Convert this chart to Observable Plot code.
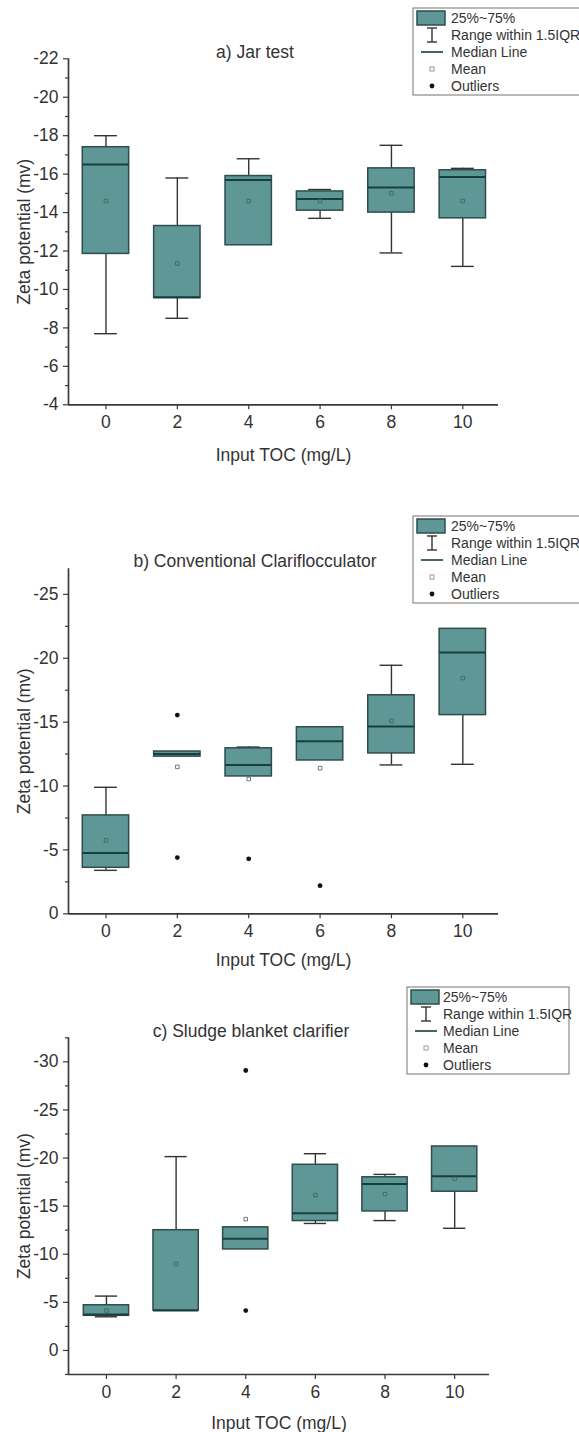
<!DOCTYPE html>
<html>
<head>
<meta charset="utf-8">
<script src="https://cdn.jsdelivr.net/npm/d3@7"></script>
<script src="https://cdn.jsdelivr.net/npm/@observablehq/plot@0.6"></script>
<style>
  body { margin: 0; background: #fff; }
  #page { position: relative; width: 579px; height: 1432px; overflow: hidden; background: #fff;
          font-family: Arial, "Liberation Sans", sans-serif; }
  .panel { position: absolute; left: 0; }
  #overlay { position: absolute; left: 0; top: 0; pointer-events: none; }
</style>
</head>
<body>
<div id="page"></div>
<script>
// ---------- data ----------
const toc = [0, 2, 4, 6, 8, 10];
const xTicks = [0, 2, 4, 6, 8, 10];

// a) Jar test
const jarWhiskerHigh = [-18.0, -15.8, -16.8, -15.2, -17.5, -16.3];
const jarQ3          = [-17.4, -13.3, -15.9, -15.1, -16.3, -16.2];
const jarMedian      = [-16.5, -9.6, -15.7, -14.7, -15.3, -15.85];
const jarQ1          = [-11.85, -9.55, -12.3, -14.1, -14.0, -13.7];
const jarWhiskerLow  = [-7.7, -8.5, -12.3, -13.7, -11.9, -11.2];
const jarMean        = [-14.6, -11.35, -14.6, -14.6, -15.0, -14.6];
const jarOutlierToc   = [];
const jarOutlierValue = [];
const jarYTicks = [-22, -20, -18, -16, -14, -12, -10, -8, -6, -4];
const jarYMinor = [-21, -19, -17, -15, -13, -11, -9, -7, -5];

// b) Conventional Clariflocculator
const convWhiskerHigh = [-9.9, -12.7, -13.05, -14.6, -19.45, -22.3];
const convQ3          = [-7.7, -12.7, -12.95, -14.6, -17.1, -22.3];
const convMedian      = [-4.75, -12.5, -11.65, -13.5, -14.65, -20.45];
const convQ1          = [-3.6, -12.3, -10.75, -12.0, -12.55, -15.55];
const convWhiskerLow  = [-3.4, -12.3, -10.75, -12.0, -11.65, -11.7];
const convMean        = [-5.75, -11.5, -10.55, -11.4, -15.1, -18.45];
const convOutlierToc   = [2, 2, 4, 6];
const convOutlierValue = [-15.55, -4.4, -4.3, -2.2];
const convYTicks = [0, -5, -10, -15, -20, -25];
const convYMinor = [-2.5, -7.5, -12.5, -17.5, -22.5];

// c) Sludge blanket clarifier
const sludgeWhiskerHigh = [-5.65, -20.15, -12.8, -20.45, -18.3, -21.2];
const sludgeQ3          = [-4.7, -12.5, -12.8, -19.3, -18.0, -21.2];
const sludgeMedian      = [-3.75, -4.15, -11.6, -14.25, -17.3, -18.1];
const sludgeQ1          = [-3.6, -4.15, -10.5, -13.45, -14.45, -16.5];
const sludgeWhiskerLow  = [-3.5, -4.15, -10.5, -13.2, -13.5, -12.7];
const sludgeMean        = [-4.15, -9.0, -13.65, -16.15, -16.25, -17.85];
const sludgeOutlierToc   = [4, 4];
const sludgeOutlierValue = [-29.1, -4.15];
const sludgeYTicks = [0, -5, -10, -15, -20, -25, -30];
const sludgeYMinor = [2.5, -2.5, -7.5, -12.5, -17.5, -22.5, -27.5, -32.5];

const legendLabels = ["25%~75%", "Range within 1.5IQR", "Median Line", "Mean", "Outliers"];
const titles = ["a) Jar test", "b) Conventional Clariflocculator", "c) Sludge blanket clarifier"];
const xLabel = "Input TOC (mg/L)";
const yLabel = "Zeta potential (mv)";

// ---------- style ----------
const BOX_FILL = "#5f9696";
const BOX_STROKE = "#2f4d4d";
const MEDIAN = "#173f3f";
const WHISKER = "#333";
const AXIS = "#3a3a3a";
const TEXT = "#333";
const MEAN = "#3e6262";
const BOX_HALF = 0.65, CAP_HALF = 0.32;

function stats(hi, q3, med, q1, lo, mean) {
  return toc.map((t, i) => ({toc: t, hi: hi[i], q3: q3[i], median: med[i], q1: q1[i], lo: lo[i], mean: mean[i]}));
}
function outl(ts, vs) { return ts.map((t, i) => ({toc: t, value: vs[i]})); }

const page = document.getElementById("page");

function panel(cfg) {
  const {top, height, marginTop, marginBottom, marginRight, xDomain, yDomain, yTicks, yMinor, data, outliers, xLabelOffset} = cfg;
  const chart = Plot.plot({
    width: 579, height, marginTop, marginBottom, marginLeft: 68, marginRight,
    style: {fontFamily: "Arial, 'Liberation Sans', sans-serif", fontSize: "13.5px", color: TEXT, background: "transparent", overflow: "visible"},
    x: {type: "linear", domain: xDomain},
    y: {type: "linear", domain: yDomain},
    marks: [
      // whiskers
      Plot.ruleX(data, {x: "toc", y1: "q3", y2: "hi", stroke: WHISKER, strokeWidth: 1.4}),
      Plot.ruleX(data, {x: "toc", y1: "lo", y2: "q1", stroke: WHISKER, strokeWidth: 1.4}),
      Plot.ruleY(data.filter(d => d.hi !== d.q3), {y: "hi", x1: d => d.toc - CAP_HALF, x2: d => d.toc + CAP_HALF, stroke: WHISKER, strokeWidth: 1.4}),
      Plot.ruleY(data.filter(d => d.lo !== d.q1), {y: "lo", x1: d => d.toc - CAP_HALF, x2: d => d.toc + CAP_HALF, stroke: WHISKER, strokeWidth: 1.4}),
      // boxes
      Plot.rect(data, {x1: d => d.toc - BOX_HALF, x2: d => d.toc + BOX_HALF, y1: "q1", y2: "q3", fill: BOX_FILL, stroke: BOX_STROKE, strokeWidth: 1.5}),
      Plot.ruleY(data, {y: "median", x1: d => d.toc - BOX_HALF, x2: d => d.toc + BOX_HALF, stroke: MEDIAN, strokeWidth: 2}),
      // mean
      Plot.dot(data, {x: "toc", y: "mean", symbol: "square", r: 2, stroke: MEAN, strokeWidth: 1, fill: "none", strokeOpacity: 0.8}),
      // outliers
      Plot.dot(outliers, {x: "toc", y: "value", r: 2.4, fill: "#111", stroke: "none"}),
      // axes
      Plot.axisY(yMinor, {tickSize: 3, tickFormat: () => "", stroke: AXIS, strokeWidth: 1.2, label: null}),
      Plot.axisY({ticks: yTicks, tickSize: 5, tickPadding: 5, tickFormat: d => String(d), stroke: AXIS, strokeWidth: 1.2, fill: TEXT,
                  label: yLabel, labelAnchor: "center", labelArrow: "none", labelOffset: 51, fontSize: 17.5}),
      Plot.axisX({ticks: xTicks, tickSize: 5, tickPadding: 6, tickFormat: d => String(d), stroke: AXIS, strokeWidth: 1.2, fill: TEXT,
                  label: xLabel, labelAnchor: "center", labelArrow: "none", labelOffset: xLabelOffset, fontSize: 17.5}),
      Plot.ruleX([xDomain[0]], {stroke: AXIS, strokeWidth: 1.7}),
      Plot.ruleY([yDomain[0]], {stroke: AXIS, strokeWidth: 1.7})
    ]
  });
  chart.classList.add("panel");
  chart.style.top = top + "px";
  page.appendChild(chart);
}

panel({top: 0, height: 480, marginTop: 58.3, marginBottom: 75.7, marginRight: 81,
  xDomain: [-1.05, 11.0], yDomain: [-4, -22], yTicks: jarYTicks, yMinor: jarYMinor,
  data: stats(jarWhiskerHigh, jarQ3, jarMedian, jarQ1, jarWhiskerLow, jarMean),
  outliers: outl(jarOutlierToc, jarOutlierValue), xLabelOffset: 56});

panel({top: 480, height: 480, marginTop: 88.3, marginBottom: 46.7, marginRight: 81,
  xDomain: [-1.05, 11.0], yDomain: [0, -27], yTicks: convYTicks, yMinor: convYMinor,
  data: stats(convWhiskerHigh, convQ3, convMedian, convQ1, convWhiskerLow, convMean),
  outliers: outl(convOutlierToc, convOutlierValue), xLabelOffset: 52.5});

panel({top: 950, height: 482, marginTop: 87.3, marginBottom: 58, marginRight: 90,
  xDomain: [-1.09, 11.0], yDomain: [2.5, -32.5], yTicks: sludgeYTicks, yMinor: sludgeYMinor,
  data: stats(sludgeWhiskerHigh, sludgeQ3, sludgeMedian, sludgeQ1, sludgeWhiskerLow, sludgeMean),
  outliers: outl(sludgeOutlierToc, sludgeOutlierValue), xLabelOffset: 54.75});

// ---------- titles & legends overlay ----------
const svg = d3.select(page).append("svg").attr("id", "overlay").attr("width", 579).attr("height", 1432)
  .style("font-family", "Arial, 'Liberation Sans', sans-serif");

const titlePos = [[255, 52], [255, 561], [251, 1031]];
titles.forEach((t, i) => {
  svg.append("text").attr("x", titlePos[i][0]).attr("y", titlePos[i][1]).attr("text-anchor", "middle")
    .attr("dominant-baseline", "central").attr("font-size", 17.5).attr("fill", TEXT).text(t);
});

function legend(x, y, w, textX) {
  const g = svg.append("g");
  const rowH = 17;
  g.append("rect").attr("x", x).attr("y", y).attr("width", w).attr("height", 87)
    .attr("fill", "#fff").attr("stroke", "#8a8a8a").attr("stroke-width", 1.2);
  const ix = x + 19;
  const rows = legendLabels.map((_, i) => y + 10 + rowH * i);
  // swatch
  g.append("rect").attr("x", x + 4).attr("y", rows[0] - 7).attr("width", 28).attr("height", 14)
    .attr("fill", BOX_FILL).attr("stroke", BOX_STROKE).attr("stroke-width", 1.5);
  // whisker icon
  g.append("line").attr("x1", ix).attr("x2", ix).attr("y1", rows[1] - 7).attr("y2", rows[1] + 7).attr("stroke", WHISKER).attr("stroke-width", 1.4);
  g.append("line").attr("x1", ix - 5).attr("x2", ix + 5).attr("y1", rows[1] - 7).attr("y2", rows[1] - 7).attr("stroke", WHISKER).attr("stroke-width", 1.4);
  g.append("line").attr("x1", ix - 5).attr("x2", ix + 5).attr("y1", rows[1] + 7).attr("y2", rows[1] + 7).attr("stroke", WHISKER).attr("stroke-width", 1.4);
  // median icon
  g.append("line").attr("x1", x + 8).attr("x2", x + 30).attr("y1", rows[2]).attr("y2", rows[2]).attr("stroke", MEDIAN).attr("stroke-width", 1.6);
  // mean icon
  g.append("rect").attr("x", ix - 2).attr("y", rows[3] - 2).attr("width", 4).attr("height", 4).attr("fill", "none").attr("stroke", "#999");
  // outlier icon
  g.append("circle").attr("cx", ix).attr("cy", rows[4]).attr("r", 2.4).attr("fill", "#111");
  legendLabels.forEach((l, i) => {
    g.append("text").attr("x", textX).attr("y", rows[i]).attr("dominant-baseline", "central")
      .attr("font-size", 14).attr("fill", TEXT).text(l);
  });
}
legend(413, 8, 172, 451);
legend(413, 516, 172, 451);
legend(407, 987, 162, 443);
</script>
</body>
</html>
